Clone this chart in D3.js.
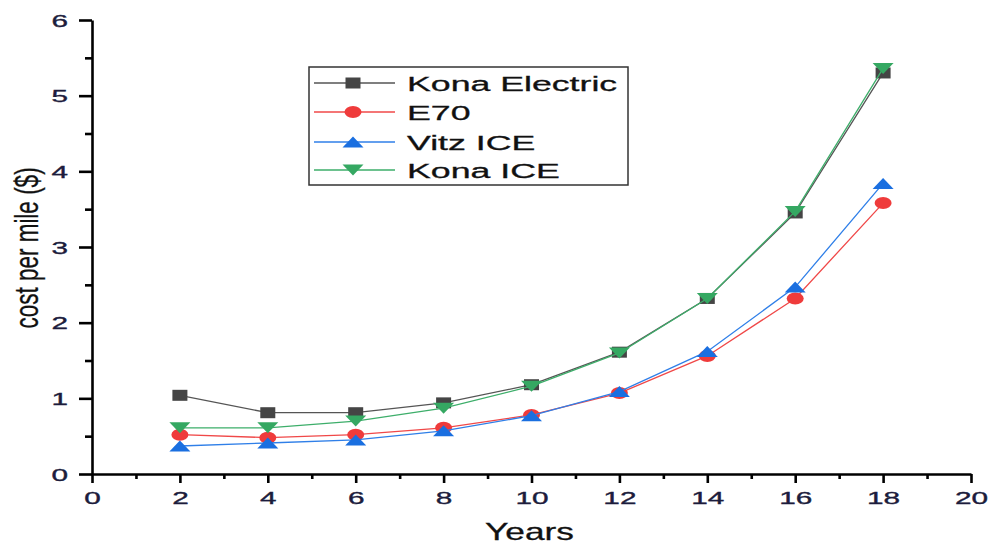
<!DOCTYPE html>
<html>
<head>
<meta charset="utf-8">
<script src="https://cdn.jsdelivr.net/npm/d3@7"></script>
<style>
  html, body { margin: 0; padding: 0; background: #fff; }
  svg { display: block; font-family: "Liberation Sans", Arial, sans-serif; }
</style>
</head>
<body>
<svg id="chart" width="990" height="546"></svg>
<script>
const years = [2, 4, 6, 8, 10, 12, 14, 16, 18];
const konaElectric = [1.04, 0.81, 0.81, 0.94, 1.18, 1.61, 2.32, 3.45, 5.30];
const e70 = [0.52, 0.48, 0.52, 0.61, 0.78, 1.07, 1.56, 2.32, 3.58];
const vitzICE = [0.37, 0.41, 0.45, 0.57, 0.77, 1.09, 1.62, 2.47, 3.84];
const konaICE = [0.61, 0.61, 0.70, 0.87, 1.16, 1.60, 2.32, 3.47, 5.36];
const seriesNames = ["Kona Electric", "E70", "Vitz ICE", "Kona ICE"];
const xTicks = [0, 2, 4, 6, 8, 10, 12, 14, 16, 18, 20];
const yTicks = [0, 1, 2, 3, 4, 5, 6];
const xTitle = "Years";
const yTitle = "cost per mile ($)";

const seriesValues = [konaElectric, e70, vitzICE, konaICE];
const seriesStyle = [
  { line: "#555555", fill: "#454545", marker: "square" },
  { line: "#f04848", fill: "#ef3b3b", marker: "circle" },
  { line: "#2f7fe8", fill: "#1a6fe0", marker: "up" },
  { line: "#3dae6a", fill: "#35a862", marker: "down" }
];

const svg = d3.select("#chart");
const x = d3.scaleLinear().domain([0, 20]).range([92, 971]);
const y = d3.scaleLinear().domain([0, 6]).range([474, 20]);

const TS = 1.75; // horizontal stretch of the reference text
const tickFont = 17;

// Axes
const xAxis = svg.append("g").attr("transform", `translate(0,${y(0)})`)
  .call(d3.axisBottom(x).tickValues(xTicks).tickSize(9).tickSizeOuter(0).tickFormat(d3.format("d")));
const xMinor = svg.append("g").attr("transform", `translate(0,${y(0)})`)
  .call(d3.axisBottom(x).tickValues(d3.range(1, 20, 2)).tickSize(5).tickSizeOuter(0).tickFormat(""));
const yAxis = svg.append("g").attr("transform", `translate(${x(0)},0)`)
  .call(d3.axisLeft(y).tickValues(yTicks).tickSize(13).tickSizeOuter(0).tickFormat(d3.format("d")));
const yMinor = svg.append("g").attr("transform", `translate(${x(0)},0)`)
  .call(d3.axisLeft(y).tickValues(d3.range(0.5, 6, 1)).tickSize(7).tickSizeOuter(0).tickFormat(""));

[xAxis, xMinor, yAxis, yMinor].forEach(g => {
  g.select(".domain").attr("stroke", "#000").attr("stroke-width", 2.6);
  g.selectAll(".tick line").attr("stroke", "#000").attr("stroke-width", 2.6);
});
xMinor.select(".domain").remove();
yMinor.select(".domain").remove();

xAxis.selectAll(".tick text")
  .attr("y", 30).attr("dy", null)
  .attr("font-size", tickFont).attr("fill", "#1c1c3c")
  .attr("stroke", "#1c1c3c").attr("stroke-width", 0.35)
  .attr("transform", `scale(${TS},1)`);
yAxis.selectAll(".tick text")
  .attr("x", -24 / TS).attr("dy", "0.36em")
  .attr("font-size", tickFont).attr("fill", "#1c1c3c")
  .attr("stroke", "#1c1c3c").attr("stroke-width", 0.35)
  .attr("transform", `scale(${TS},1)`);

// Axis titles
svg.append("text")
  .attr("transform", `translate(${(x(0) + x(20)) / 2 - 2},540) scale(1.47,1)`)
  .attr("text-anchor", "middle").attr("font-size", 24).attr("fill", "#111")
  .attr("stroke", "#111").attr("stroke-width", 0.3)
  .text(xTitle);
svg.append("text")
  .attr("transform", `translate(38,248) rotate(-90) scale(1,1.5)`)
  .attr("text-anchor", "middle").attr("font-size", 22.5).attr("fill", "#111")
  .attr("stroke", "#111").attr("stroke-width", 0.2)
  .text(yTitle);

// Markers
function drawMarker(g, type, fill) {
  if (type === "square") {
    g.append("rect").attr("x", -7.5).attr("y", -5.5).attr("width", 15).attr("height", 11).attr("fill", fill);
  } else if (type === "circle") {
    g.append("ellipse").attr("rx", 8.5).attr("ry", 6).attr("fill", fill);
  } else if (type === "up") {
    g.append("path").attr("d", "M-10.5,5.5L10.5,5.5L0,-5.5Z").attr("fill", fill);
  } else {
    g.append("path").attr("d", "M-10.5,-5.5L10.5,-5.5L0,5.5Z").attr("fill", fill);
  }
}

const line = d3.line().x(d => x(d[0])).y(d => y(d[1]));
seriesValues.forEach((vals, i) => {
  const pts = years.map((yr, j) => [yr, vals[j]]);
  const st = seriesStyle[i];
  const g = svg.append("g");
  g.append("path").datum(pts).attr("d", line)
    .attr("fill", "none").attr("stroke", st.line).attr("stroke-width", 1.3);
  pts.forEach(p => {
    const mg = g.append("g").attr("transform", `translate(${x(p[0])},${y(p[1])})`);
    drawMarker(mg, st.marker, st.fill);
  });
});

// Legend
const legend = svg.append("g");
legend.append("rect").attr("x", 309).attr("y", 67).attr("width", 319).attr("height", 118)
  .attr("fill", "#fff").attr("stroke", "#333").attr("stroke-width", 1.5);
const rowY = [83, 112, 142, 170];
seriesNames.forEach((name, i) => {
  const st = seriesStyle[i];
  legend.append("line").attr("x1", 314).attr("x2", 395).attr("y1", rowY[i]).attr("y2", rowY[i])
    .attr("stroke", st.line).attr("stroke-width", 1.3);
  const mg = legend.append("g").attr("transform", `translate(353,${rowY[i]})`);
  drawMarker(mg, st.marker, st.fill);
  legend.append("text")
    .attr("transform", `translate(407,${rowY[i] + 8}) scale(1.7,1)`)
    .attr("font-size", 21).attr("fill", "#111")
    .attr("stroke", "#111").attr("stroke-width", 0.3)
    .text(name);
});
</script>
</body>
</html>
